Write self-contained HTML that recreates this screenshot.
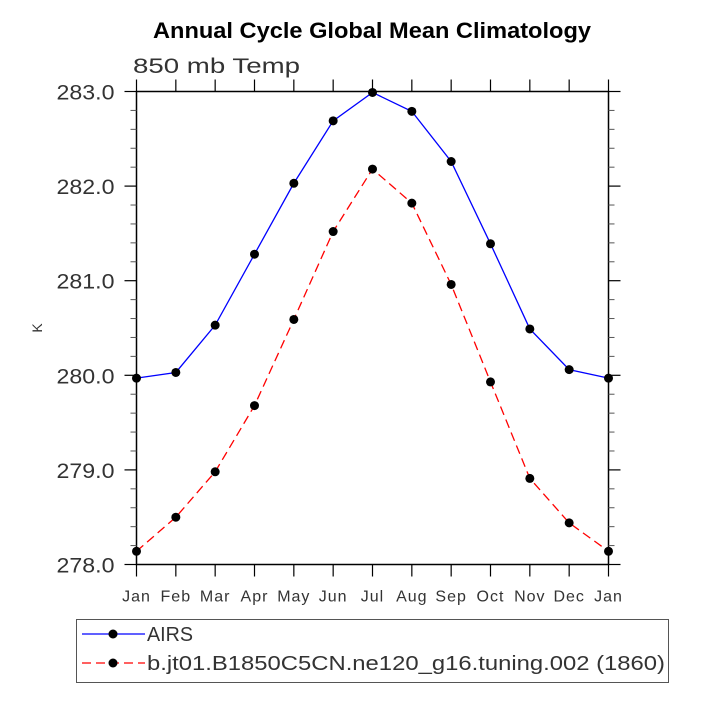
<!DOCTYPE html>
<html><head><meta charset="utf-8"><style>
body{margin:0;background:#fff}
svg text{font-family:"Liberation Sans",sans-serif}
</style></head><body>
<svg id="chart" width="701" height="701">
<text x="372" y="38" text-anchor="middle" font-size="22" font-weight="bold" textLength="438" lengthAdjust="spacingAndGlyphs">Annual Cycle Global Mean Climatology</text>
<text x="133" y="73" font-size="21" fill="#333" textLength="167" lengthAdjust="spacingAndGlyphs">850 mb Temp</text>
<text x="42" y="328" font-size="14" fill="#333" transform="rotate(-90 42 328)" text-anchor="middle">K</text>
<g id="axes"></g>
<g id="series"></g>
<rect x="76.5" y="619.5" width="592" height="63" fill="none" stroke="#555"/>
<g>
<line x1="82" y1="634" x2="145" y2="634" stroke="blue" stroke-width="1.3"/>
<circle cx="113" cy="634" r="4.5" fill="#000"/>
<text x="147" y="641" font-size="20" fill="#333" textLength="46" lengthAdjust="spacingAndGlyphs">AIRS</text>
</g>
<g>
<line x1="82" y1="663" x2="145" y2="663" stroke="red" stroke-width="1.3" stroke-dasharray="9,5"/>
<circle cx="113" cy="663" r="4.5" fill="#000"/>
<text x="147" y="670" font-size="20" fill="#333" textLength="518" lengthAdjust="spacingAndGlyphs">b.jt01.B1850C5CN.ne120_g16.tuning.002 (1860)</text>
</g>
</svg>
<script>
const months=["Jan","Feb","Mar","Apr","May","Jun","Jul","Aug","Sep","Oct","Nov","Dec","Jan"];
const airs=[279.97,280.03,280.53,281.28,282.03,282.69,282.99,282.79,282.26,281.39,280.49,280.06,279.97];
const model=[278.14,278.50,278.98,279.68,280.59,281.52,282.18,281.82,280.96,279.93,278.91,278.44,278.14];
const yTicks=[278,279,280,281,282,283];
const yTickLabels=["278.0","279.0","280.0","281.0","282.0","283.0"];
const L=136.5,R=608.5,T=91.5,B=564.5,ymin=278,ymax=283;
const NS="http://www.w3.org/2000/svg";
const X=i=>L+(R-L)*i/(months.length-1);
const Y=v=>B-(B-T)*(v-ymin)/(ymax-ymin);
function mk(tag,attrs,parent){const e=document.createElementNS(NS,tag);for(const k in attrs)e.setAttribute(k,attrs[k]);parent.appendChild(e);return e;}
const ax=document.getElementById('axes');
const frame=mk('rect',{x:L,y:T,width:R-L,height:B-T,fill:'none',stroke:'#000','stroke-width':1.5},ax);


months.forEach((m,i)=>{
  const x=X(i);
  mk('line',{x1:x,y1:B,x2:x,y2:B+12,stroke:'#000','stroke-width':1.2},ax);
  mk('line',{x1:x,y1:T,x2:x,y2:T-12,stroke:'#000','stroke-width':1.2},ax);
  const t=mk('text',{x:x,y:B+37,'text-anchor':'middle','font-size':16,fill:'#333','letter-spacing':1},ax);
  t.textContent=m;
  
  
});
yTicks.forEach((v,i)=>{
  const y=Y(v);
  mk('line',{x1:L,y1:y,x2:L-12,y2:y,stroke:'#000','stroke-width':1.2},ax);
  mk('line',{x1:R,y1:y,x2:R+12,y2:y,stroke:'#000','stroke-width':1.2},ax);
  const t=mk('text',{x:L-80,y:y+8,'font-size':21,fill:'#333',textLength:58,lengthAdjust:'spacingAndGlyphs'},ax);
  t.textContent=yTickLabels[i];
  
  
  if(i<yTicks.length-1){for(let k=1;k<5;k++){const ym=Y(v+k*0.2);
    mk('line',{x1:L,y1:ym,x2:L-6,y2:ym,stroke:'#555'},ax);
    mk('line',{x1:R,y1:ym,x2:R+6,y2:ym,stroke:'#555'},ax);}}
});
const sg=document.getElementById('series');
function series(vals,color,dash,name){
  const g=mk('g',{},sg);
  
  
  const p=mk('polyline',{points:vals.map((v,i)=>X(i)+','+Y(v)).join(' '),fill:'none',stroke:color,'stroke-width':1.3},g);
  if(dash)p.setAttribute('stroke-dasharray',dash);
  vals.forEach((v,i)=>{const c=mk('circle',{cx:X(i),cy:Y(v),r:4.5,fill:'#000'},g);
    
    });
}
series(airs,'blue',null,'series-airs');
series(model,'red','9,5','series-model');
</script>
</body></html>
